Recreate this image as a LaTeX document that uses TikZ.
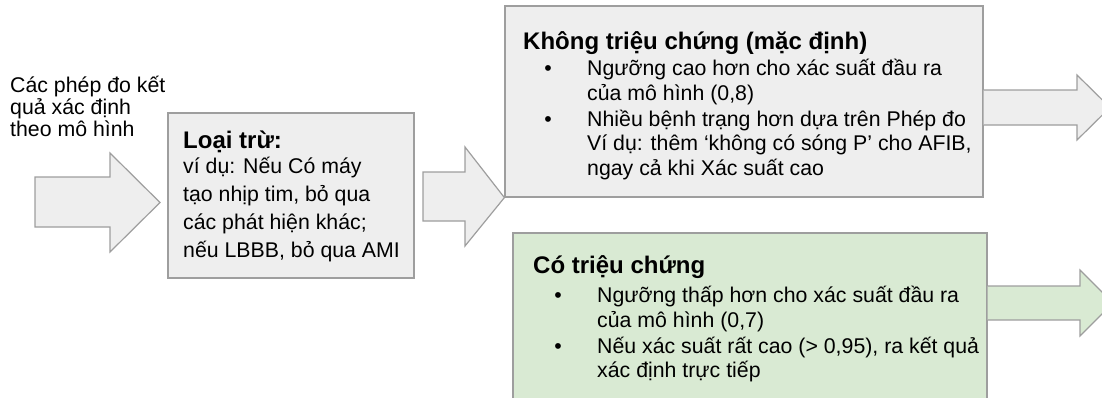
\documentclass[tikz,border=0pt]{standalone}
\usepackage{fontspec}
\setmainfont{Liberation Sans}
\definecolor{boxgray}{HTML}{EEEEEE}
\definecolor{boxgreen}{HTML}{D9EAD3}
\definecolor{edgegray}{HTML}{9E9E9E}
\begin{document}
\begin{tikzpicture}[x=1pt,y=-1pt,
  panel/.style={draw=edgegray, line width=1.2pt, inner sep=0pt},
  blockarrow/.style={draw=edgegray, line width=1.2pt, line join=miter},
  body/.style={font=\fontsize{21.3}{25}\selectfont, inner sep=0pt, anchor=base west},
  head/.style={font=\bfseries\fontsize{24}{28}\selectfont, inner sep=0pt, anchor=base west},
  dot/.style={font=\fontsize{21.3}{25}\selectfont, inner sep=0pt, anchor=base},
]
\useasboundingbox (0,0) rectangle (1102,397);
\clip (0,0) rectangle (1102,397);

% boxes
\node[panel, fill=boxgray, minimum width=246pt, minimum height=165pt] (excl) at (291,195.5) {};
\node[panel, fill=boxgray, minimum width=478pt, minimum height=191pt] (asym) at (744,101.5) {};
\node[panel, fill=boxgreen, minimum width=474pt, minimum height=170pt] (sym) at (750,318) {};

% block arrows
\draw[blockarrow, fill=boxgray] (35,177) -- (110,177) -- (110,153) -- (160,202.5) -- (110,252) -- (110,227) -- (35,227) -- cycle;
\draw[blockarrow, fill=boxgray] (423,172) -- (465,172) -- (465,147) -- (asym.south west) -- (465,246) -- (465,221) -- (423,221) -- cycle;
\draw[blockarrow, fill=boxgray] (asym.east |- 0,90) -- (1077,90) -- (1077,75) -- (1110,107.5) -- (1077,140) -- (1077,125) -- (asym.east |- 0,125);
\draw[blockarrow, fill=boxgreen] (sym.east |- 0,286) -- (1080,286) -- (1080,270) -- (1113,303) -- (1080,336) -- (1080,320) -- (sym.east |- 0,320);

% left text
\node[body] (in1) at (10,92) {Các phép đo kết};
\node[body] (in2) at (10,114) {quả xác định};
\node[body] (in3) at (10,136) {theo mô hình};

% exclusion box text
\node[head] (exT) at (183,148) {Loại trừ:};
\node[body] (ex1) at (183,173) {ví dụ: Nếu Có máy};
\node[body] (ex2) at (183,201) {tạo nhịp tim, bỏ qua};
\node[body] (ex3) at (183,229) {các phát hiện khác;};
\node[body] (ex4) at (183,257) {nếu LBBB, bỏ qua AMI};

% asymptomatic box text
\node[head] (asT) at (523,49) {Không triệu chứng (mặc định)};
\node[dot] (asB1) at (548,75) {\textbullet};
\node[dot] (asB2) at (548,126) {\textbullet};
\node[body] (as1) at (587,75) {Ngưỡng cao hơn cho xác suất đầu ra};
\node[body] (as2) at (587,100) {của mô hình (0,8)};
\node[body] (as3) at (587,126) {Nhiều bệnh trạng hơn dựa trên Phép đo};
\node[body] (as4) at (587,150) {Ví dụ: thêm ‘không có sóng P’ cho AFIB,};
\node[body] (as5) at (587,175) {ngay cả khi Xác suất cao};

% symptomatic box text
\node[head] (syT) at (533,273) {Có triệu chứng};
\node[dot] (syB1) at (558,302) {\textbullet};
\node[dot] (syB2) at (558,353) {\textbullet};
\node[body] (sy1) at (597,302) {Ngưỡng thấp hơn cho xác suất đầu ra};
\node[body] (sy2) at (597,327) {của mô hình (0,7)};
\node[body] (sy3) at (597,353) {Nếu xác suất rất cao (> 0,95), ra kết quả};
\node[body] (sy4) at (597,377) {xác định trực tiếp};
\end{tikzpicture}
\end{document}
